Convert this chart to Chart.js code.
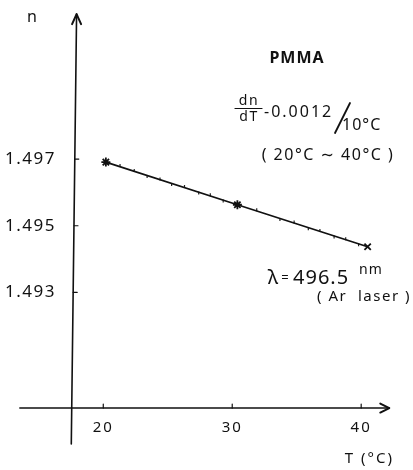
<!DOCTYPE html>
<html>
<head>
<meta charset="utf-8">
<script src="https://cdn.jsdelivr.net/npm/chart.js@4.4.1/dist/chart.umd.min.js"></script>
<style>
  html, body { margin: 0; padding: 0; background: #fff; }
  #wrap { position: relative; width: 413px; height: 470px; }
</style>
</head>
<body>
<div id="wrap"><canvas id="c"></canvas></div>
<script>
// Messpunkte (Kreuze) und die kleinen Zwischenmarken entlang der Geraden
const tempC  = [20.2, 30.4, 40.5];
const indexN = [1.49691, 1.49563, 1.49437];
const markStyle = ['star', 'star', 'crossRot'];

const stepTemp = [21.3, 22.4, 23.4, 24.4, 25.3, 26.3, 27.4, 28.3, 29.3,
                  31.9, 33.7, 34.8, 35.9, 36.8, 37.9, 38.8, 39.8];
const stepN    = [1.49681, 1.49666, 1.49648, 1.49640, 1.49624, 1.49618, 1.49598, 1.49593, 1.49574,
                  1.49548, 1.49519, 1.49511, 1.49491, 1.49486, 1.49466, 1.49461, 1.49443];

const xTicks = [20, 30, 40];
const yTicks = [1.497, 1.495, 1.493];
const yTickLabels = ['1.497', '1.495', '1.493'];

const FONT = '"Noto Sans", "DejaVu Sans", sans-serif';

function pts(xs, ys) { return xs.map(function (x, i) { return { x: x, y: ys[i] }; }); }

function txt(ctx, s, x, y, size, align, opt) {
  opt = opt || {};
  ctx.font = (opt.weight || 'normal') + ' ' + size + 'px ' + FONT;
  ctx.textAlign = align || 'left';
  ctx.textBaseline = 'middle';
  ctx.letterSpacing = (opt.ls == null ? 1 : opt.ls) + 'px';
  ctx.fillText(s, x, y);
}

// Achsen mit Pfeilen, Striche nach innen, Beschriftung
const axesPlugin = {
  id: 'axes',
  afterDraw: function (chart) {
    const ctx = chart.ctx, xs = chart.scales.x, ys = chart.scales.y;
    const X = function (v) { return xs.getPixelForValue(v); };
    const Y = function (v) { return ys.getPixelForValue(v); };
    ctx.save();
    ctx.strokeStyle = '#111'; ctx.fillStyle = '#111';
    ctx.lineCap = 'round'; ctx.lineJoin = 'round';

    // y-Achse (leicht schräg wie im Original)
    const yTop = Y(1.50135), yBot = Y(1.48845), xTopA = X(17.93), xBotA = X(17.52);
    ctx.lineWidth = 1.6;
    ctx.beginPath(); ctx.moveTo(xBotA, yBot); ctx.lineTo(xTopA, yTop); ctx.stroke();
    ctx.lineWidth = 2;
    ctx.beginPath(); ctx.moveTo(xTopA - 4.5, yTop + 10); ctx.lineTo(xTopA, yTop); ctx.lineTo(xTopA + 4.5, yTop + 10); ctx.stroke();

    // x-Achse
    const yAx = Y(1.48953), xL = X(13.53), xR = X(42.18);
    ctx.lineWidth = 1.6;
    ctx.beginPath(); ctx.moveTo(xL, yAx); ctx.lineTo(xR, yAx); ctx.stroke();
    ctx.lineWidth = 2;
    ctx.beginPath(); ctx.moveTo(xR - 9, yAx - 4.5); ctx.lineTo(xR, yAx); ctx.lineTo(xR - 9, yAx + 4.5); ctx.stroke();

    // Striche
    ctx.lineWidth = 1.2;
    xTicks.forEach(function (t) {
      ctx.beginPath(); ctx.moveTo(X(t), yAx); ctx.lineTo(X(t), yAx - 4); ctx.stroke();
      txt(ctx, String(t), X(t), yAx + 20, 15, 'center', { ls: 2 });
    });
    yTicks.forEach(function (v, i) {
      const f = (v - 1.48845) / (1.50135 - 1.48845);
      const xa = xBotA + (xTopA - xBotA) * f;
      ctx.beginPath(); ctx.moveTo(xa, Y(v)); ctx.lineTo(xa + 4, Y(v)); ctx.stroke();
      txt(ctx, yTickLabels[i], 56, Y(v), 17, 'right', { ls: 1.5 });
    });

    // Achsentitel
    txt(ctx, 'n', 32, 17, 16, 'center', { ls: 0 });
    txt(ctx, 'T (°C)', 394, 459, 15, 'right', { ls: 2 });

    // Beschriftungen rechts oben
    txt(ctx, 'PMMA', 297, 58, 16, 'center', { weight: 'bold', ls: 1 });
    txt(ctx, 'dn', 249, 101, 14, 'center', { ls: 1.5 });
    ctx.lineWidth = 1.2;
    ctx.beginPath(); ctx.moveTo(235, 108.5); ctx.lineTo(262, 108.5); ctx.stroke();
    txt(ctx, 'dT', 249, 117, 14, 'center', { ls: 1.5 });
    txt(ctx, '-0.0012', 264, 112, 16, 'left', { ls: 2 });
    ctx.lineWidth = 1.8;
    ctx.beginPath(); ctx.moveTo(350, 103); ctx.lineTo(335, 133); ctx.stroke();
    txt(ctx, '10°C', 342, 125, 16, 'left', { ls: 1 });
    txt(ctx, '( 20°C ∼ 40°C )', 328, 155, 16, 'center', { ls: 1.5 });

    txt(ctx, 'λ', 273, 278, 20, 'center', { ls: 0 });
    txt(ctx, '=', 285, 278, 13, 'center', { ls: 0 });
    txt(ctx, '496.5', 293, 278, 20, 'left', { ls: 1 });
    txt(ctx, 'nm', 359, 270, 14, 'left', { ls: 1 });
    txt(ctx, '( Ar  laser )', 364, 297, 15, 'center', { ls: 1.5 });

    ctx.restore();
  }
};

new Chart(document.getElementById('c'), {
  type: 'scatter',
  data: {
    datasets: [
      {
        label: 'n(T)',
        data: pts(tempC, indexN),
        showLine: true, tension: 0,
        borderColor: '#111', borderWidth: 1.8,
        pointStyle: markStyle, pointRadius: 4.5, pointBorderWidth: 1.8,
        pointBorderColor: '#111', pointBackgroundColor: '#111'
      },
      {
        label: 'Zwischenwerte',
        data: pts(stepTemp, stepN),
        showLine: false,
        pointStyle: 'line', rotation: 90, pointRadius: 1.5, pointBorderWidth: 1.2,
        pointBorderColor: '#222'
      }
    ]
  },
  options: {
    responsive: true, maintainAspectRatio: false, animation: false,
    layout: { padding: 0 },
    plugins: { legend: { display: false }, tooltip: { enabled: false } },
    scales: {
      x: { type: 'linear', min: 12.48, max: 43.53, display: false },
      y: { type: 'linear', min: 1.487861, max: 1.501584, display: false }
    }
  },
  plugins: [axesPlugin]
});
</script>
</body>
</html>
